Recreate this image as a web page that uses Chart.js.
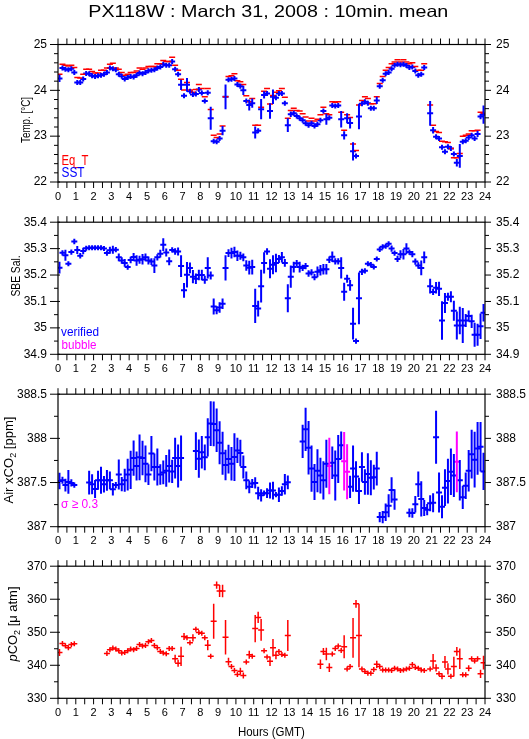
<!DOCTYPE html>
<html lang="en">
<head>
  <meta charset="UTF-8">
  <title>PX118W : March 31, 2008 : 10min. mean</title>
  <script src="https://cdn.jsdelivr.net/npm/chart.js"></script>
  <style>
    body { margin: 0; background: #fff; }
    .wrap { position: relative; width: 529px; height: 739px; }
    canvas { position: absolute; left: 0; }
  </style>
</head>
<body>
<div class="wrap">
  <canvas id="c1" width="529" height="204" style="top:0px"></canvas>
  <canvas id="c2" width="529" height="172" style="top:204px"></canvas>
  <canvas id="c3" width="529" height="172" style="top:376px"></canvas>
  <canvas id="c4" width="529" height="191" style="top:548px"></canvas>
</div>

<script>
  // ---- data: 10 minute means, bin i is centred at i*10+5 minutes GMT ----
  const hourTicks = [0, 1, 2, 3, 4, 5, 6, 7, 8, 9, 10, 11, 12, 13, 14, 15, 16, 17, 18, 19, 20, 21, 22, 23, 24];
  const tempTicks = [22, 23, 24, 25];
  const salTicks = [34.9, 35, 35.1, 35.2, 35.3, 35.4];
  const xco2Ticks = [387, 387.5, 388, 388.5];
  const pco2Ticks = [330, 340, 350, 360, 370];

  const minutes = Array.from({ length: 144 }, (_, i) => i * 10 + 5);

  const eqT = [
    24.35, 24.57, 24.55, 24.53, 24.55, 24.50, 24.28, 24.27, 24.35, 24.46,
    24.46, 24.41, 24.38, 24.38, 24.44, 24.44, 24.49, 24.57, 24.59, 24.49,
    24.46, 24.39, 24.33, 24.35, 24.39, 24.39, 24.42, 24.49, 24.46, 24.49,
    24.52, 24.52, 24.52, 24.58, 24.58, 24.65, 24.63, 24.63, 24.72, 24.55,
    24.44, 24.24, 24.01, 24.17, 24.01, 23.96, 24.02, 24.13, 24.04, 23.86,
    24.04, 23.58, 23.02, 22.97, 23.05, 23.22, 23.86, 24.30, 24.32, 24.36,
    24.21, 24.19, 24.13, 23.88, 23.75, 23.82, 23.24, 23.24, 23.63, 23.98,
    24.04, 23.70, 23.89, 23.96, 23.99, 24.04, 23.85, 23.39, 23.56, 23.61,
    23.56, 23.55, 23.49, 23.42, 23.33, 23.39, 23.33, 23.37, 23.47, 23.63,
    23.49, 23.47, 23.75, 23.74, 23.75, 23.52, 23.13, 23.47, 23.41, 22.83,
    22.69, 23.68, 23.78, 23.86, 23.82, 23.71, 23.71, 23.86, 24.15, 24.30,
    24.44, 24.50, 24.58, 24.62, 24.67, 24.62, 24.67, 24.62, 24.58, 24.60,
    24.52, 24.44, 24.44, 24.58, null, 23.68, 23.24, 23.10, 23.08, 22.89,
    22.88, 22.86, 22.73, 22.53, 22.53, 22.62, 23.00, 23.02, 23.05, 23.12,
    23.12, 23.13, 23.52, 23.50
  ];

  const sst = [
    24.26, 24.49, 24.46, 24.45, 24.47, 24.39, 24.17, 24.17, 24.25, 24.37,
    24.36, 24.32, 24.30, 24.32, 24.33, 24.35, 24.39, 24.49, 24.47, 24.45,
    24.35, 24.31, 24.25, 24.28, 24.30, 24.29, 24.33, 24.38, 24.36, 24.39,
    24.43, 24.44, 24.45, 24.49, 24.51, 24.57, 24.55, 24.55, 24.63, 24.46,
    24.35, 24.12, 23.88, 24.12, 23.98, 23.91, 23.92, 24.02, 23.94, 23.77,
    23.95, 23.39, 22.89, 22.88, 22.95, 23.12, 23.86, 24.23, 24.24, 24.26,
    24.13, 24.09, 24.00, 23.77, 23.68, 23.72, 23.08, 23.12, 23.59, 23.90,
    23.93, 23.55, 23.86, 23.84, 23.93, 23.93, 23.72, 23.24, 23.48, 23.50,
    23.44, 23.39, 23.35, 23.28, 23.24, 23.28, 23.22, 23.26, 23.35, 23.55,
    23.37, 23.40, 23.67, 23.66, 23.67, 23.37, 23.02, 23.39, 23.29, 22.67,
    22.57, 23.43, 23.71, 23.75, 23.72, 23.61, 23.61, 23.78, 24.09, 24.22,
    24.36, 24.39, 24.47, 24.55, 24.57, 24.56, 24.57, 24.54, 24.50, 24.51,
    24.42, 24.33, 24.35, 24.50, null, 23.50, 23.13, 22.99, 22.95, 22.76,
    22.66, 22.77, 22.73, 22.61, 22.42, 22.57, 22.88, 22.90, 22.97, 23.02,
    22.95, 23.05, 23.43, 23.47
  ];
  const sstErr = [
    .08, .02, .02, .02, .02, .02, .02, .02, .02, .02,
    .02, .02, .02, .02, .02, .02, .02, .02, .02, .02,
    .02, .02, .02, .02, .02, .02, .02, .02, .02, .02,
    .02, .02, .02, .02, .02, .02, .02, .02, .02, .05,
    .03, .11, .03, .15, .04, .02, .02, .03, .02, .02,
    .04, .25, .03, .03, .03, .10, .27, .02, .02, .02,
    .04, .04, .10, .03, .12, .10, .13, .03, .22, .08,
    .04, .17, .16, .03, .03, .03, .04, .15, .06, .03,
    .02, .02, .02, .03, .02, .02, .02, .02, .02, .02,
    .12, .05, .02, .02, .02, .18, .09, .11, .12, .20,
    .05, .28, .02, .02, .02, .03, .03, .08, .05, .03,
    .02, .02, .02, .02, .02, .02, .02, .02, .02, .02,
    .02, .03, .05, .02, 0, .27, .07, .03, .02, .04,
    .04, .02, .02, .04, .08, .26, .02, .02, .02, .02,
    .03, .07, .06, .20
  ];

  const sal = [
    35.228, 35.284, 35.275, 35.243, 35.287, 35.327, 35.295, 35.273, 35.291, 35.301,
    35.303, 35.303, 35.303, 35.303, 35.303, 35.300, 35.283, 35.294, 35.296, 35.296,
    35.267, 35.255, 35.246, 35.230, 35.257, 35.268, 35.255, 35.258, 35.260, 35.267,
    35.255, 35.251, 35.236, 35.267, 35.281, 35.315, 35.285, 35.252, 35.295, 35.289,
    35.289, 35.234, 35.142, 35.201, 35.227, 35.194, 35.186, 35.200, 35.200, 35.182,
    35.227, 35.198, 35.081, 35.067, 35.077, 35.091, 35.227, 35.283, 35.283, 35.287,
    35.273, 35.273, 35.267, 35.236, 35.228, 35.230, 35.083, 35.073, 35.158, 35.246,
    35.289, 35.224, 35.239, 35.246, 35.261, 35.267, 35.246, 35.112, 35.194, 35.230,
    35.245, 35.230, 35.227, 35.234, 35.206, 35.210, 35.192, 35.212, 35.218, 35.222,
    35.222, 35.258, 35.269, 35.252, 35.252, 35.227, 35.137, 35.186, 35.161, 35.016,
    34.950, 35.112, 35.212, 35.216, 35.243, 35.239, 35.230, 35.261, 35.297, 35.307,
    35.309, 35.318, 35.300, 35.283, 35.261, 35.279, 35.279, 35.300, 35.287, 35.279,
    35.251, 35.236, 35.227, 35.267, null, 35.158, 35.136, 35.152, 35.148, 35.028,
    35.094, 35.118, 35.118, 35.065, 35.009, 35.028, 35.009, 35.028, 35.045, 35.025,
    34.974, 34.974, 35.006, 35.057
  ];
  const salErr = [
    .022, .010, .021, .008, .010, .010, .015, .010, .012, .004,
    .004, .004, .004, .004, .004, .004, .010, .013, .015, .010,
    .015, .012, .015, .010, .012, .015, .020, .015, .020, .015,
    .015, .013, .028, .012, .015, .024, .015, .015, .010, .012,
    .015, .041, .028, .048, .020, .025, .020, .020, .020, .015,
    .040, .015, .030, .015, .020, .020, .048, .015, .020, .020,
    .020, .015, .015, .020, .026, .028, .065, .030, .062, .040,
    .012, .036, .036, .035, .015, .020, .015, .053, .042, .020,
    .012, .020, .012, .012, .012, .012, .012, .020, .020, .020,
    .020, .012, .020, .012, .012, .040, .034, .015, .020, .060,
    .010, .098, .012, .010, .008, .010, .008, .008, .010, .008,
    .008, .004, .012, .010, .012, .015, .020, .020, .010, .012,
    .012, .012, .028, .022, 0, .028, .012, .022, .027, .073,
    .038, .015, .021, .038, .053, .052, .066, .025, .021, .025,
    .045, .042, .048, .033
  ];

  const xco2 = [
    387.517, 387.525, 387.471, 387.507, 387.496, 387.471, null, null, null, null,
    387.499, 387.481, 387.427, 387.525, 387.525, 387.481, 387.525, 387.525, 387.424, 387.471,
    387.590, 387.481, 387.525, 387.590, 387.644, 387.777, 387.687, 387.785, 387.777, 387.712,
    387.590, 387.828, 387.676, 387.676, 387.590, 387.615, 387.633, 387.687, 387.626, 387.777,
    387.687, 387.777, null, null, null, null, 387.856, 387.770, 387.842, 387.785,
    388.012, 388.167, 388.164, 388.092, 387.951, 387.832, 387.698, 387.766, 387.712, 387.788,
    387.864, 387.835, 387.676, 387.525, 387.452, 387.489, 387.496, 387.380, 387.355, 387.380,
    387.380, 387.409, 387.409, 387.362, 387.362, 387.405, 387.481, 387.503, null, null,
    null, null, 387.965, 388.102, 387.893, 387.658, 387.507, 387.633, 387.579, 387.525,
    387.712, 387.687, 387.723, 387.579, 387.766, 387.922, 387.741, 387.622, 387.452, 387.658,
    387.568, 387.405, 387.676, 387.507, 387.597, 387.554, 387.561, 387.658, 387.109, 387.109,
    387.164, 387.236, 387.416, 387.308, null, null, null, null, 387.157, 387.154,
    387.254, 387.481, 387.315, 387.211, 387.193, 387.265, 387.272, 388.012, 387.387, 387.225,
    387.442, 387.517, 387.622, 387.579, 387.734, 387.525, 387.333, 387.463, 387.633, 387.821,
    387.759, 387.886, 387.904, 387.626
  ];
  const xco2Err = [
    .094, .040, .072, .135, .040, .030, 0, 0, 0, 0,
    .135, .114, .103, .108, .153, .094, .117, .100, .072, .036,
    .170, .081, .130, .180, .217, .200, .163, .260, .195, .208,
    .117, .200, .153, .210, .116, .135, .180, .186, .132, .230,
    .244, .256, 0, 0, 0, 0, .213, .217, .184, .145,
    .217, .253, .253, .247, .244, .244, .172, .163, .190, .270,
    .144, .150, .130, .100, .072, .050, .063, .072, .069, .030,
    .054, .090, .100, .030, .081, .054, .117, .078, 0, 0,
    0, 0, .188, .244, .303, .262, .204, .244, .202, .217,
    .271, .320, .184, .283, .271, .157, .330, .310, .126, .262,
    .172, .148, .166, .144, .235, .199, .139, .191, .058, .070,
    .100, .130, .144, .117, 0, 0, 0, 0, .049, .054,
    .094, .144, .199, .090, .063, .090, .108, .300, .226, .130,
    .208, .253, .264, .244, .343, .229, .132, .150, .235, .276,
    .316, .298, .280, .211
  ];
  // bins flagged as bubble (sigma >= 0.3)
  const xco2Bubble = [91, 96, 97, 134];

  const pco2 = [
    343.9, 346.6, 345.9, 345.3, 346.3, 346.5, null, null, null, null,
    null, null, null, null, null, null, 343.6, 344.7, 345.2, 344.9,
    344.4, 343.7, 343.9, 344.4, 344.9, 344.7, 345.1, 346.3, 345.8, 346.0,
    347.1, 347.5, 346.0, 345.3, 344.2, 343.7, 343.5, 345.1, 345.1, 342.0,
    340.6, 342.7, 348.7, 348.3, 346.8, 348.3, 350.9, 349.9, 349.7, 348.3,
    346.1, 342.7, 353.3, 364.3, 362.5, 362.5, 348.5, 341.1, 339.6, 338.4,
    337.2, 338.2, 336.9, 341.0, 343.2, 342.7, 351.1, 354.5, 350.7, 344.4,
    342.5, 341.2, 345.3, 343.0, 344.2, 343.3, 343.0, 349.0, null, null,
    null, null, null, null, null, null, null, null, 340.3, 344.2,
    343.4, 339.3, 343.4, 345.1, 345.8, 344.5, 345.6, 338.9, 339.6, 348.3,
    358.6, 349.0, 338.9, 338.1, 337.6, 337.6, 338.7, 340.3, 339.6, 338.6,
    338.6, 338.6, 338.4, 339.1, 338.9, 338.4, 338.6, 338.9, 339.1, 340.2,
    339.3, 339.1, 338.6, 338.4, null, 338.9, 341.3, 339.2, 337.4, 336.7,
    341.0, 338.9, 336.7, 339.6, 344.2, 342.0, 337.1, 337.1, 339.1, 342.0,
    341.3, 342.0, 337.4, 340.8
  ];
  const pco2Err = [
    1.06, .6, .6, .6, .6, .6, 0, 0, 0, 0,
    0, 0, 0, 0, 0, 0, .6, .6, .6, .6,
    .6, .6, .6, .6, .6, .6, .6, .6, .6, .6,
    .6, .6, .6, .6, .6, .6, .6, .6, .6, 1.2,
    1.06, 2.9, 1.06, .6, .6, 1.1, .6, .6, .6, .6,
    1.54, .6, 5.3, 1.1, 1.8, 1.9, 5.2, 1.2, .6, .6,
    .6, 1.06, .9, .6, 1.2, .6, 4.1, 1.7, 3.3, .6,
    .6, 1.45, 2.65, 1.2, .6, .6, .6, 4.7, 0, 0,
    0, 0, 0, 0, 0, 0, 0, 0, 1.45, 1.06,
    1.9, 1.35, .6, .6, .6, .6, 3.5, .6, .6, 6.0,
    1.2, 9.6, .6, .6, .6, .6, .6, 1.1, .6, .6,
    .6, .6, .6, .6, .6, .6, .6, .6, .6, .6,
    .6, .6, .6, .6, 0, .6, 2.1, 1.1, .6, .9,
    1.8, 1.7, .6, 3.0, 1.35, 3.1, .6, .6, .9, .6,
    .6, .6, 1.25, 2.1
  ];

  // ---- drawing helpers ----
  const RED = '#ff0000', BLUE = '#0000ff', MAGENTA = '#ff00ff';
  const FONT = '"Liberation Sans", Arial, sans-serif';
  Chart.defaults.font.family = FONT;
  Chart.defaults.color = '#000';

  function series(vals, errs, colorOf, lw, bars) {
    const pts = [];
    vals.forEach((v, i) => {
      if (v !== null) pts.push({ x: minutes[i] / 60, y: v, e: errs ? errs[i] : 0, c: colorOf(i) });
    });
    return {
      data: pts,
      bars: bars,
      barWidth: lw,
      pointStyle: 'line',
      pointRadius: 3,
      pointHoverRadius: 3,
      pointBorderWidth: lw,
      pointBorderColor: pts.map(p => p.c),
      showLine: false
    };
  }

  // vertical error bars, drawn from the y scale of each point
  const errorBars = {
    id: 'errorBars',
    afterDatasetsDraw(chart) {
      const { ctx, chartArea: a } = chart;
      ctx.save();
      ctx.beginPath();
      ctx.rect(a.left, a.top, a.right - a.left, a.bottom - a.top);
      ctx.clip();
      chart.data.datasets.forEach((ds, k) => {
        if (!ds.bars) return;
        const meta = chart.getDatasetMeta(k);
        const ys = chart.scales[meta.yAxisID];
        meta.data.forEach((pt, j) => {
          const d = ds.data[j];
          let y1 = ys.getPixelForValue(d.y + d.e);
          let y2 = ys.getPixelForValue(d.y - d.e);
          if (y2 - y1 < 5) { y1 = pt.y - 2.5; y2 = pt.y + 2.5; }
          ctx.strokeStyle = d.c;
          ctx.lineWidth = ds.barWidth;
          ctx.beginPath();
          ctx.moveTo(pt.x, y1);
          ctx.lineTo(pt.x, y2);
          ctx.stroke();
        });
      });
      ctx.restore();
    }
  };

  // box, half hour ticks on x, minor ticks on y
  const minorStep = { c1: 0.2, c2: 0.05, c3: 0.25, c4: 5 };
  const frame = {
    id: 'frame',
    afterDraw(chart) {
      const { ctx, chartArea: a, scales } = chart;
      const x = scales.x, y = scales.y;
      ctx.save();
      ctx.strokeStyle = '#000';
      ctx.lineWidth = 1.2;
      ctx.strokeRect(a.left, a.top, a.right - a.left, a.bottom - a.top);
      ctx.lineWidth = 1;
      ctx.beginPath();
      for (let h = 0; h <= 24; h += 0.5) {
        const px = x.getPixelForValue(h);
        ctx.moveTo(px, a.top); ctx.lineTo(px, a.top - 6);
        ctx.moveTo(px, a.bottom); ctx.lineTo(px, a.bottom + 6);
      }
      const step = minorStep[chart.canvas.id];
      const n = Math.round((y.max - y.min) / step);
      for (let k = 0; k <= n; k++) {
        const v = y.min + k * step;
        const py = y.getPixelForValue(v);
        const major = y.ticks.some(t => Math.abs(t.value - v) < step / 10);
        ctx.moveTo(a.left - (major ? 8 : 4), py); ctx.lineTo(a.left + (major ? 2 : 0), py);
        ctx.moveTo(a.right, py); ctx.lineTo(a.right + (major ? 6 : 4), py);
      }
      ctx.stroke();
      ctx.restore();
    }
  };

  // free text: title, legends, y titles (page coordinates)
  const f = (px, style) => (style ? style + ' ' : '') + px + 'px ' + FONT;
  const notesById = {
    c1: [
      { parts: [{ t: 'PX118W : March 31, 2008 : 10min. mean', f: f(16.5) }], x: 268.3, y: 16.7, len: 360, center: true, color: '#000' },
      { parts: [{ t: 'Temp. [°C]', f: f(13) }], x: 30, y: 120, len: 46, center: true, rot: true, color: '#000' },
      { parts: [{ t: 'Eq_T', f: f(14) }], x: 61.5, y: 164.5, len: 27, color: RED },
      { parts: [{ t: 'SST', f: f(14) }], x: 61.5, y: 177, len: 23, color: BLUE }
    ],
    c2: [
      { parts: [{ t: 'SBE Sal.', f: f(13) }], x: 20, y: 276, len: 41, center: true, rot: true, color: '#000' },
      { parts: [{ t: 'verified', f: f(13) }], x: 61, y: 336, len: 38, color: BLUE },
      { parts: [{ t: 'bubble', f: f(13) }], x: 61.5, y: 349, len: 35, color: MAGENTA }
    ],
    c3: [
      { parts: [{ t: 'Air xCO', f: f(13) }, { t: '2', f: f(9), dy: 3 }, { t: ' [ppm]', f: f(13) }], x: 13, y: 460, len: 87, center: true, rot: true, color: '#000' },
      { parts: [{ t: 'σ ≥ 0.3', f: f(13) }], x: 61, y: 508, len: 37, color: MAGENTA }
    ],
    c4: [
      { parts: [{ t: 'p', f: f(13, 'italic') }, { t: 'CO', f: f(13) }, { t: '2', f: f(9), dy: 3 }, { t: ' [μ atm]', f: f(13) }], x: 16.5, y: 624, len: 75, center: true, rot: true, color: '#000' },
      { parts: [{ t: 'Hours (GMT)', f: f(12) }], x: 271.4, y: 735.5, len: 67, center: true, color: '#000' }
    ]
  };
  const notes = {
    id: 'notes',
    afterDraw(chart) {
      const ctx = chart.ctx;
      const off = chart.canvas.offsetTop;
      (notesById[chart.canvas.id] || []).forEach(n => {
        ctx.save();
        ctx.translate(n.x, n.y - off);
        if (n.rot) ctx.rotate(-Math.PI / 2);
        let w = 0;
        n.parts.forEach(p => { ctx.font = p.f; w += ctx.measureText(p.t).width; });
        ctx.scale(n.len ? n.len / w : 1, 1);
        let u = n.center ? -w / 2 : 0;
        ctx.fillStyle = n.color;
        ctx.textBaseline = 'alphabetic';
        n.parts.forEach(p => {
          ctx.font = p.f;
          ctx.fillText(p.t, u, p.dy || 0);
          u += ctx.measureText(p.t).width;
        });
        ctx.restore();
      });
    }
  };

  function yAxis(pos, min, max, ticks) {
    return {
      type: 'linear', position: pos, min: min, max: max,
      grid: { display: false, drawTicks: false },
      border: { display: false },
      afterBuildTicks: s => { s.ticks = ticks.map(v => ({ value: v })); },
      afterFit: s => { s.width = pos === 'left' ? 58 : 44; },
      ticks: { font: { size: 12 }, padding: 11, callback: v => String(v) }
    };
  }

  function panel(id, padTop, axisH, yMin, yMax, ticks, datasets) {
    return new Chart(document.getElementById(id), {
      type: 'scatter',
      data: { datasets: datasets },
      options: {
        responsive: false,
        animation: false,
        layout: { padding: { top: padTop, left: 0, right: 0, bottom: 0 } },
        plugins: { legend: { display: false }, tooltip: { enabled: false } },
        scales: {
          x: {
            type: 'linear', position: 'bottom', min: 0, max: 24,
            grid: { display: false, drawTicks: false },
            border: { display: false },
            afterBuildTicks: s => { s.ticks = hourTicks.map(v => ({ value: v })); },
            afterFit: s => { s.height = axisH; },
            ticks: { font: { size: 11 }, padding: 8, autoSkip: false, maxRotation: 0, callback: v => String(v) }
          },
          y: yAxis('left', yMin, yMax, ticks),
          y2: yAxis('right', yMin, yMax, ticks)
        }
      },
      plugins: [errorBars, frame, notes]
    });
  }

  panel('c1', 44.5, 22, 22, 25, tempTicks, [
    series(eqT, null, () => RED, 1.5, false),
    series(sst, sstErr, () => BLUE, 2, true)
  ]);
  panel('c2', 12.7, 21.7, 34.9, 35.4, salTicks, [
    series(sal, salErr, () => BLUE, 2, true)
  ]);
  panel('c3', 12.3, 21.3, 387, 388.5, xco2Ticks, [
    series(xco2, xco2Err, i => (xco2Bubble.includes(i) ? MAGENTA : BLUE), 2, true)
  ]);
  panel('c4', 12, 40.7, 330, 370, pco2Ticks, [
    series(pco2, pco2Err, () => RED, 1.5, true)
  ]);
</script>
</body>
</html>
